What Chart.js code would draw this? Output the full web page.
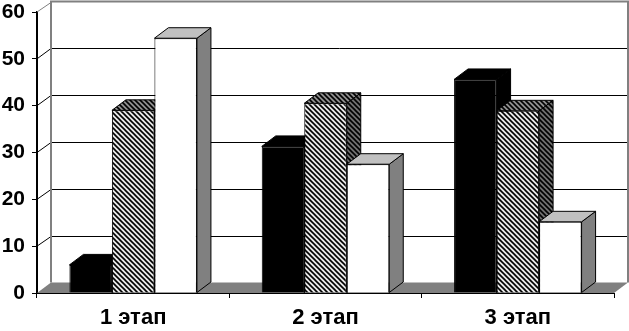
<!DOCTYPE html>
<html>
<head>
<meta charset="utf-8">
<script src="https://cdn.jsdelivr.net/npm/chart.js@4"></script>
<style>
  html, body { margin: 0; padding: 0; background: #fff; }
  #wrap { width: 629px; height: 331px; }
</style>
</head>
<body>
<div id="wrap"><canvas id="bar-chart"></canvas></div>
<script>
const stages = ['1 этап', '2 этап', '3 этап'];
const blackSeries = [6, 31.3, 45.6];
const hatchSeries = [39, 40.5, 38.9];
const whiteSeries = [54.4, 27.5, 15.2];
const yTicks = [0, 10, 20, 30, 40, 50, 60];

// depth of the fake 3d boxes
const DX = 14, DY = 10.5;

function hatch(bg, line) {
  const c = document.createElement('canvas');
  c.width = 5; c.height = 5;
  const g = c.getContext('2d');
  g.fillStyle = bg;
  g.fillRect(0, 0, 5, 5);
  g.strokeStyle = line;
  g.lineWidth = 1.6;
  g.beginPath();
  g.moveTo(-1, -1); g.lineTo(6, 6);
  g.moveTo(-1, 4); g.lineTo(1, 6);
  g.moveTo(4, -1); g.lineTo(6, 1);
  g.stroke();
  return g.createPattern(c, 'repeat');
}

// front / top / side fill per series
const faces = [
  { front: '#000', top: '#000', side: '#000' },
  { front: hatch('#e8e8e8', '#000'), top: hatch('#909090', '#000'), side: hatch('#707070', '#000') },
  { front: '#fff', top: '#c0c0c0', side: '#808080' }
];

function poly(ctx, pts, fill) {
  ctx.beginPath();
  ctx.moveTo(pts[0][0], pts[0][1]);
  for (let k = 1; k < pts.length; k++) ctx.lineTo(pts[k][0], pts[k][1]);
  ctx.closePath();
  ctx.fillStyle = fill;
  ctx.fill();
  ctx.stroke();
}

const box3d = {
  id: 'box3d',
  beforeDatasetsDraw(chart) {
    const { ctx, chartArea: a, scales: { y } } = chart;
    ctx.save();
    ctx.lineJoin = 'miter';

    // floor
    ctx.fillStyle = '#808080';
    ctx.beginPath();
    ctx.moveTo(a.left, a.bottom);
    ctx.lineTo(a.right, a.bottom);
    ctx.lineTo(a.right + DX, a.bottom - DY);
    ctx.lineTo(a.left + DX, a.bottom - DY);
    ctx.closePath();
    ctx.fill();

    // back wall grid + side wall lines
    ctx.lineWidth = 1;
    yTicks.forEach(v => {
      if (v === 0) return;
      const fy = y.getPixelForValue(v);
      const by = Math.round(fy - DY) + 0.5;
      ctx.strokeStyle = v === 60 ? '#808080' : '#000';
      ctx.beginPath();
      ctx.moveTo(a.left, fy);
      ctx.lineTo(a.left + DX, by);
      if (v !== 60) ctx.lineTo(a.right + DX, by);
      ctx.stroke();
    });

    // wall border
    ctx.strokeStyle = '#808080';
    ctx.lineWidth = 2;
    ctx.beginPath();
    ctx.moveTo(a.left + DX, a.bottom - DY);
    ctx.lineTo(a.left + DX, a.top - DY);
    ctx.lineTo(a.right + DX, a.top - DY);
    ctx.lineTo(a.right + DX, a.bottom - DY);
    ctx.stroke();

    // floor front edge
    ctx.strokeStyle = '#000';
    ctx.lineWidth = 1;
    ctx.beginPath();
    ctx.moveTo(a.left, a.bottom + 0.5);
    ctx.lineTo(a.right, a.bottom + 0.5);
    ctx.stroke();

    // box sides and tops
    const metas = chart.getSortedVisibleDatasetMetas();
    ctx.strokeStyle = '#000';
    ctx.lineWidth = 1;
    stages.forEach((_, j) => {
      metas.forEach(meta => {
        const el = meta.data[j];
        const p = el.getProps(['x', 'y', 'base', 'width'], true);
        const L = p.x - p.width / 2, R = p.x + p.width / 2;
        const f = faces[meta.index];
        poly(ctx, [[R, p.y], [R + DX, p.y - DY], [R + DX, p.base - DY], [R, p.base]], f.side);
        poly(ctx, [[L, p.y], [R, p.y], [R + DX, p.y - DY], [L + DX, p.y - DY]], f.top);
      });
    });
    ctx.restore();
  }
};

const family = '"Liberation Sans", Arial, sans-serif';

new Chart(document.getElementById('bar-chart').getContext('2d'), {
  type: 'bar',
  data: {
    labels: stages,
    datasets: [
      { data: blackSeries, backgroundColor: faces[0].front, borderColor: '#000', borderWidth: 1 },
      { data: hatchSeries, backgroundColor: faces[1].front, borderColor: '#000', borderWidth: 1 },
      { data: whiteSeries, backgroundColor: faces[2].front, borderColor: '#000', borderWidth: 1 }
    ]
  },
  options: {
    responsive: true,
    maintainAspectRatio: false,
    animation: false,
    layout: { padding: { left: 0, right: 15, top: 0, bottom: 0 } },
    datasets: { bar: { categoryPercentage: 0.663, barPercentage: 1 } },
    plugins: { legend: { display: false }, tooltip: { enabled: false } },
    scales: {
      x: {
        afterFit: s => { s.height = 38; },
        grid: { drawOnChartArea: false, tickLength: 5, color: '#000', offset: true },
        border: { color: '#000', width: 1 },
        ticks: { color: '#000', font: { family: family, size: 22, weight: 'bold' }, padding: 7 }
      },
      y: {
        min: 0,
        max: 60,
        afterBuildTicks: s => { s.ticks = yTicks.map(v => ({ value: v })); },
        afterFit: s => { s.width = 37; s.paddingTop = 12; s.paddingBottom = 0; },
        grid: { drawOnChartArea: false, tickLength: 5, color: '#000' },
        border: { color: '#000', width: 2 },
        ticks: { color: '#000', font: { family: family, size: 21, weight: 'bold' }, padding: 7 }
      }
    }
  },
  plugins: [box3d]
});
</script>
</body>
</html>
